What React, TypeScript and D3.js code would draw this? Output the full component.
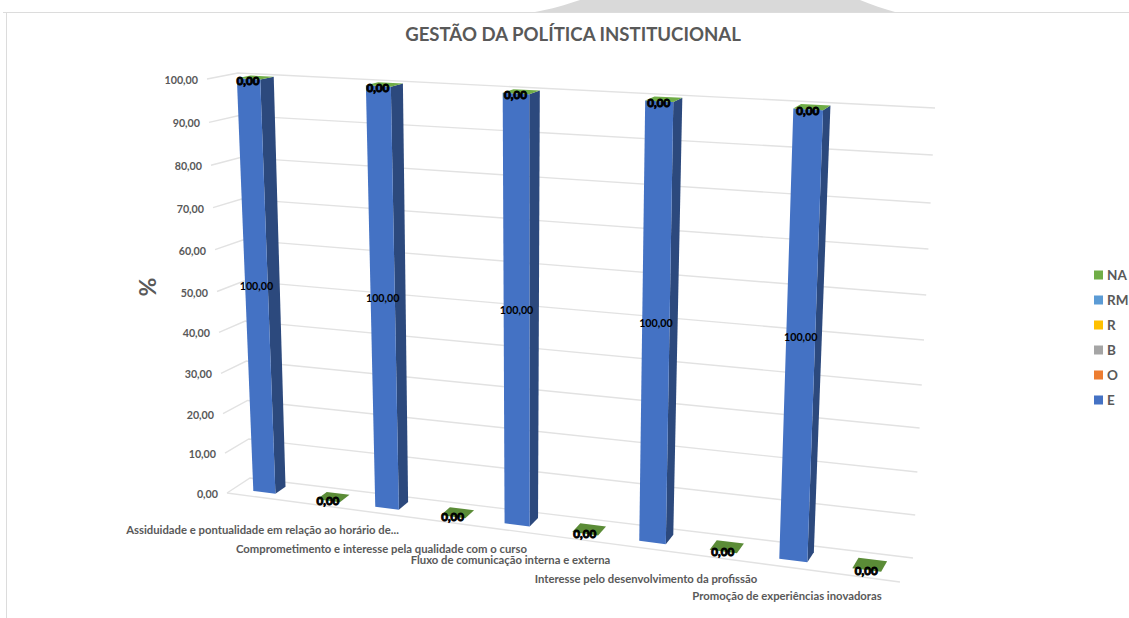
import React from "react";
import * as d3 from "d3";

const title = "GESTÃO DA POLÍTICA INSTITUCIONAL";
const axisTitle = "%";
const categories = [
  "Assiduidade e pontualidade em relação ao horário de...",
  "Comprometimento e interesse pela qualidade com o curso",
  "Fluxo de comunicação interna e externa",
  "Interesse pelo desenvolvimento da profissão",
  "Promoção de experiências inovadoras",
];
// Ten column slots: every other one is an empty spacer row of the sheet.
const slots = [0, 1, 2, 3, 4, 5, 6, 7, 8, 9];
const E = [100, 0, 100, 0, 100, 0, 100, 0, 100, 0];
const O = [0, 0, 0, 0, 0, 0, 0, 0, 0, 0];
const B = [0, 0, 0, 0, 0, 0, 0, 0, 0, 0];
const R = [0, 0, 0, 0, 0, 0, 0, 0, 0, 0];
const RM = [0, 0, 0, 0, 0, 0, 0, 0, 0, 0];
const NA = [0, 0, 0, 0, 0, 0, 0, 0, 0, 0];
const yTicks = [0, 10, 20, 30, 40, 50, 60, 70, 80, 90, 100];
const legendOrder = ["NA", "RM", "R", "B", "O", "E"];
const seriesColors: Record<string, string> = {
  E: "#4472c4", O: "#ed7d31", B: "#a5a5a5", R: "#ffc000", RM: "#5b9bd5", NA: "#70ad47",
};
const seriesValues: Record<string, number[]> = { E, O, B, R, RM, NA };
const stackOrder = ["E", "O", "B", "R", "RM", "NA"];

// --- perspective calibration of the 3D box ---
const backLeftY = d3.scaleLinear().domain(yTicks).range([478, 439, 400.5, 361, 321, 281, 240, 199, 157.5, 115.5, 73]);
const backRightY = d3.scaleLinear().domain(yTicks).range([558, 515, 472, 428, 385, 340, 295, 249, 203, 155, 108]);
const backLeftX = d3.scaleLinear().domain([0, 100]).range([250, 238]);
const backRightX = d3.scaleLinear().domain([0, 100]).range([913, 935]);
const offX0 = d3.scaleLinear().domain([0, 100]).range([-23, -31]);
const offX1 = d3.scaleLinear().domain([0, 100]).range([-13, -14]);
const offY0 = d3.scaleLinear().domain([0, 100]).range([15, 6]);
const offY1 = d3.scaleLinear().domain([0, 100]).range([24, 11]);
const lerp = d3.interpolateNumber;

function project(u: number, v: number, w: number): [number, number] {
  const bx = lerp(backLeftX(v), backRightX(v))(u);
  const by = lerp(backLeftY(v), backRightY(v))(u);
  return [bx + w * lerp(offX0(v), offX1(v))(u), by + w * lerp(offY0(v), offY1(v))(u)];
}

const slotU = d3.scaleLinear().domain(slots).range([0.029, 0.124, 0.211, 0.309, 0.404, 0.505, 0.605, 0.71, 0.814, 0.923]);
const slotW = d3.scaleLinear().domain([0, 9]).range([0.033, 0.043]);
const W_BACK = 0.25;
const W_FRONT = 0.7;

const labelLayout = [
  { x: 262.5, y: 530 },
  { x: 381.5, y: 549 },
  { x: 510.5, y: 560 },
  { x: 646, y: 579 },
  { x: 787, y: 596 },
];
const legendYs = d3.scaleLinear().domain([0, 5]).range([275, 400]);

const FONT = "Lato, sans-serif";
const GREY = "#595959";
const GRID = "#e2e2e2";
const FLAT_GREEN = "#5b8c37";
const fmt = (n: number) => n.toFixed(2).replace(".", ",");
const line = d3.line();
const poly = (pts: [number, number][]) => line(pts) + "Z";

export default function App() {
  const stack = d3.stack<number>()
    .keys(stackOrder)
    .value((i, key) => seriesValues[key][i])(slots);

  return (
    <svg width={1129} height={618} style={{ position: "absolute", left: 0, top: 0, background: "#fff" }} fontFamily={FONT}>
      {/* page decoration behind the chart */}
      <path d="M535,12 C552,9 565,5 580,0 L860,0 C872,5 884,9 895,12 Z" fill="#d9d9d9" />
      <path d="M3,12.5 H1129 M6.5,12 V618" stroke="#dcdcdc" strokeWidth={1} fill="none" />

      <text x={573} y={41} textAnchor="middle" fontSize={18.6} fontWeight={700} fill={GREY}>{title}</text>
      <text transform="translate(156,287) rotate(-90)" textAnchor="middle" fontSize={23} fontWeight={700} fill={GREY}>{axisTitle}</text>

      {/* walls */}
      {yTicks.map((t) => (
        <g key={t}>
          <path d={line([project(0, t, 1), project(0, t, 0), project(1, t, 0)]) as string} fill="none" stroke={GRID} strokeWidth={1.4} />
          <text x={project(0, t, 1)[0] - 9} y={project(0, t, 1)[1] + 5} textAnchor="end" fontSize={10.7} fontWeight={700} fill={GREY}>{fmt(t)}</text>
        </g>
      ))}
      <path d={line([project(0, 0, 1), project(1, 0, 1)]) as string} fill="none" stroke={GRID} strokeWidth={1.4} />

      {/* columns */}
      {slots.map((slot, i) => {
        const u0 = slotU(slot);
        const u1 = u0 + slotW(slot);
        const faces: React.ReactNode[] = [];
        stack.forEach((layer) => {
          const [v0, v1] = layer[i];
          const color = seriesColors[layer.key];
          if (v1 > v0) {
            faces.push(
              <path key={layer.key + "s"} d={poly([project(u1, v0, W_FRONT), project(u1, v0, W_BACK), project(u1, v1, W_BACK), project(u1, v1, W_FRONT)])} fill={d3.color(color)!.darker(1.25).formatHex()} />,
              <path key={layer.key + "f"} d={poly([project(u0, v0, W_FRONT), project(u1, v0, W_FRONT), project(u1, v1, W_FRONT), project(u0, v1, W_FRONT)])} fill={color} />
            );
          }
        });
        const top = stack[stack.length - 1];
        const vt = top[i][1];
        return (
          <g key={slot}>
            {faces}
            <path d={poly([project(u0, vt, W_FRONT), project(u1, vt, W_FRONT), project(u1, vt, W_BACK), project(u0, vt, W_BACK)])} fill={vt > 0 ? seriesColors.NA : FLAT_GREEN} />
          </g>
        );
      })}

      {/* data labels */}
      {slots.map((slot, i) => {
        const uc = slotU(slot) + slotW(slot) / 2;
        const vt = stack[stack.length - 1][i][1];
        const [tx, ty] = project(uc, vt, W_FRONT);
        const mid = project(uc, E[i] / 2, W_FRONT);
        return (
          <g key={slot} fontWeight={700} fill="#000" textAnchor="middle">
            <text x={tx - 0.5} y={ty + (vt > 0 ? 6 : 4.5)} fontSize={11.6} stroke="#000" strokeWidth={1}>{fmt(NA[i])}</text>
            {E[i] > 0 && <text x={mid[0]} y={mid[1] - 1} fontSize={10.7}>{fmt(E[i])}</text>}
          </g>
        );
      })}

      {/* category labels */}
      {categories.map((c, i) => (
        <text key={c} x={labelLayout[i].x} y={labelLayout[i].y + 4} textAnchor="middle" fontSize={11.3} fontWeight={700} fill={GREY}>{c}</text>
      ))}

      {/* legend */}
      {legendOrder.map((k, i) => (
        <g key={k}>
          <rect x={1094} y={legendYs(i) - 4.5} width={9} height={9} fill={seriesColors[k]} />
          <text x={1107} y={legendYs(i) + 5} fontSize={13.5} fontWeight={700} fill={GREY}>{k}</text>
        </g>
      ))}
    </svg>
  );
}
